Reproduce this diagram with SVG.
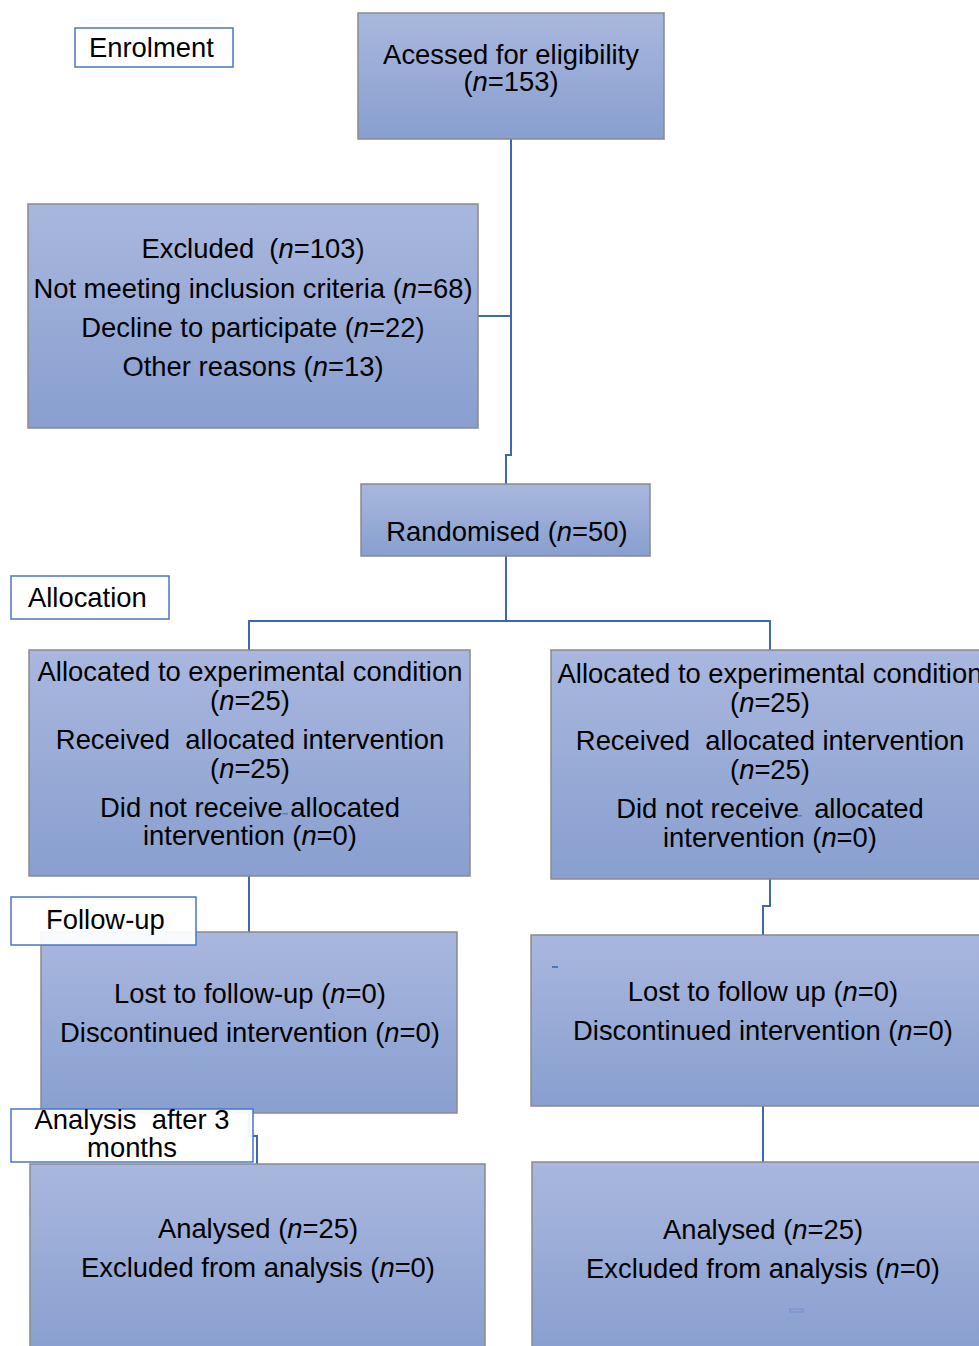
<svg xmlns="http://www.w3.org/2000/svg" width="979" height="1346" viewBox="0 0 979 1346">
<defs>
<linearGradient id="g" x1="0" y1="0" x2="0" y2="1">
<stop offset="0" stop-color="#a9b7de"/>
<stop offset="1" stop-color="#889fcf"/>
</linearGradient>
</defs>
<style>
text{font-family:"Liberation Sans",Arial,sans-serif;font-size:27.4px;fill:#000}
.c{text-anchor:middle}
.box{fill:url(#g);stroke:#8a8a8a;stroke-width:1.5}
.lab{fill:#fff;fill-opacity:0.93;stroke:#4a76c8;stroke-width:1.5}
.con{fill:none;stroke:#3d67b1;stroke-width:2}
.i{font-style:italic}
</style>
<rect width="979" height="1346" fill="#fff"/>
<g id="connectors">
<path class="con" d="M511 139 V455 H506 V484"/>
<path class="con" d="M478 316 H511"/>
<path class="con" d="M506 556 V621 M249 650 V621 H770 V650"/>
<path class="con" d="M249 876 V932"/>
<path class="con" d="M770 879 V906 H763 V935"/>
<path class="con" d="M763 1106 V1162"/>
<path class="con" d="M249 1113 V1136 H257 V1164"/>
</g>
<g id="accessed">
<rect class="box" x="358" y="13" width="306" height="126"/>
<text class="c" x="511" y="64">Acessed for eligibility</text>
<text class="c" x="511" y="91">(<tspan class="i">n</tspan>=153)</text>
</g>
<g id="enrolment">
<rect class="lab" x="75" y="28" width="158" height="39"/>
<text x="89" y="57">Enrolment</text>
</g>
<g id="excluded">
<rect class="box" x="28" y="204" width="450" height="224"/>
<text class="c" x="253" y="258">Excluded &#160;(<tspan class="i">n</tspan>=103)</text>
<text class="c" x="253" y="298">Not meeting inclusion criteria (<tspan class="i">n</tspan>=68)</text>
<text class="c" x="253" y="337">Decline to participate (<tspan class="i">n</tspan>=22)</text>
<text class="c" x="253" y="376">Other reasons (<tspan class="i">n</tspan>=13)</text>
</g>
<g id="randomised">
<rect class="box" x="361" y="484" width="289" height="72"/>
<text class="c" x="507" y="541">Randomised (<tspan class="i">n</tspan>=50)</text>
</g>
<g id="allocation">
<rect class="lab" x="11" y="576" width="158" height="43"/>
<text x="28" y="607">Allocation</text>
</g>
<g id="alloc-left">
<rect class="box" x="29" y="650" width="441" height="226"/>
<text class="c" x="250" y="681">Allocated to experimental condition</text>
<text class="c" x="250" y="710">(<tspan class="i">n</tspan>=25)</text>
<text class="c" x="250" y="749">Received &#160;allocated intervention</text>
<text class="c" x="250" y="778">(<tspan class="i">n</tspan>=25)</text>
<text class="c" x="250" y="817">Did not receive allocated</text>
<text class="c" x="250" y="845">intervention (<tspan class="i">n</tspan>=0)</text>
<rect x="282" y="813" width="6" height="1.5" fill="#5b7fc7"/>
</g>
<g id="alloc-right">
<rect class="box" x="551" y="650" width="440" height="229"/>
<text class="c" x="770" y="683">Allocated to experimental condition</text>
<text class="c" x="770" y="712">(<tspan class="i">n</tspan>=25)</text>
<text class="c" x="770" y="750">Received &#160;allocated intervention</text>
<text class="c" x="770" y="779">(<tspan class="i">n</tspan>=25)</text>
<text class="c" x="770" y="818">Did not receive &#160;allocated</text>
<text class="c" x="770" y="847">intervention (<tspan class="i">n</tspan>=0)</text>
<rect x="797" y="815" width="5" height="1.5" fill="#5b7fc7"/>
</g>
<g id="followup-left">
<rect class="box" x="41" y="932" width="416" height="181"/>
<text class="c" x="250" y="1003">Lost to follow-up (<tspan class="i">n</tspan>=0)</text>
<text class="c" x="250" y="1042">Discontinued intervention (<tspan class="i">n</tspan>=0)</text>
</g>
<g id="followup-label">
<rect class="lab" x="11" y="897" width="185" height="48"/>
<text x="46" y="929">Follow-up</text>
</g>
<g id="followup-right">
<rect class="box" x="531" y="935" width="460" height="171"/>
<rect x="552" y="966" width="6" height="2" fill="#4a76c8"/>
<text class="c" x="763" y="1001">Lost to follow up (<tspan class="i">n</tspan>=0)</text>
<text class="c" x="763" y="1040">Discontinued intervention (<tspan class="i">n</tspan>=0)</text>
</g>
<g id="analysed-left">
<rect class="box" x="30" y="1164" width="455" height="190"/>
<text class="c" x="258" y="1238">Analysed (<tspan class="i">n</tspan>=25)</text>
<text class="c" x="258" y="1277">Excluded from analysis (<tspan class="i">n</tspan>=0)</text>
</g>
<g id="analysis-label">
<rect class="lab" x="11" y="1109" width="242" height="53"/>
<text class="c" x="132" y="1129">Analysis &#160;after 3</text>
<text class="c" x="132" y="1157">months</text>
</g>
<g id="analysed-right">
<rect class="box" x="532" y="1162" width="460" height="192"/>
<text class="c" x="763" y="1239">Analysed (<tspan class="i">n</tspan>=25)</text>
<text class="c" x="763" y="1278">Excluded from analysis (<tspan class="i">n</tspan>=0)</text>
<rect x="790" y="1309" width="13" height="3" fill="none" stroke="#6f8fd0" stroke-width="1"/>
</g>
</svg>
